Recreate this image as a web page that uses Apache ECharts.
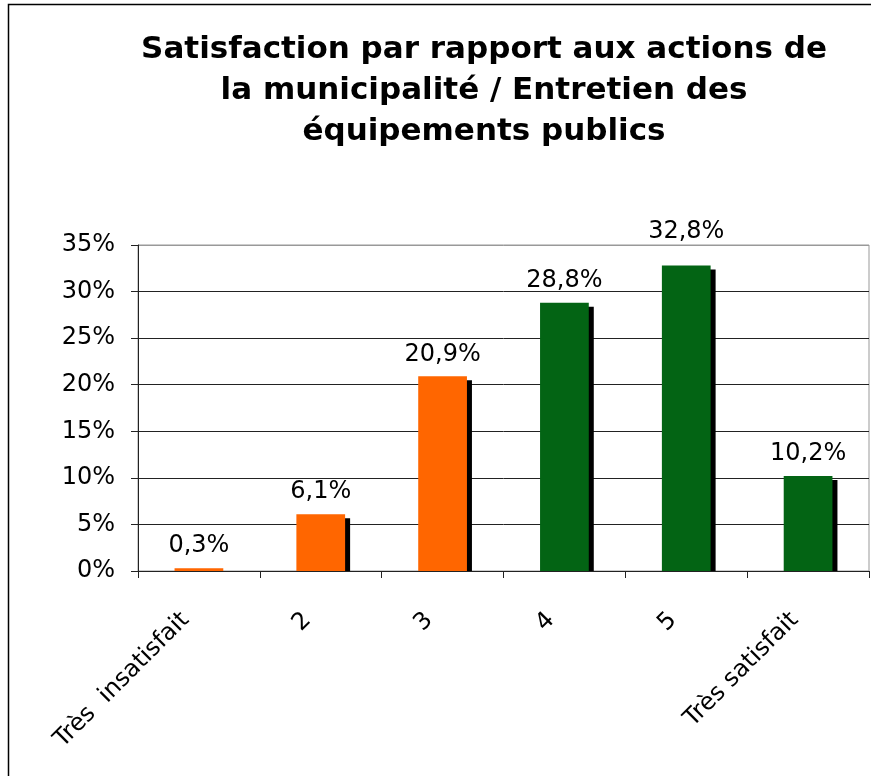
<!DOCTYPE html>
<html>
<head>
<meta charset="utf-8">
<script src="https://cdn.jsdelivr.net/npm/echarts@6/dist/echarts.min.js"></script>
<style>
html,body{margin:0;padding:0;background:#fff;}
#chart{width:871px;height:776px;}
</style>
</head>
<body>
<div id="chart"></div>
<script>
var titleText = 'Satisfaction par rapport aux actions de\nla municipalité / Entretien des\néquipements publics';
var categories = ['Très  insatisfait', '2', '3', '4', '5', 'Très satisfait'];
var values = [0.3, 6.1, 20.9, 28.8, 32.8, 10.2];
var barColors = ['#FF6600', '#FF6600', '#FF6600', '#036414', '#036414', '#036414'];
var yTicks = { min: 0, max: 35, interval: 5 };

var FONT = 'DejaVu Sans, Verdana, sans-serif';
var chart = echarts.init(document.getElementById('chart'), null, {renderer: 'canvas'});

function fmt(v) { return v.toFixed(1).replace('.', ',') + '%'; }

var option = {
  backgroundColor: '#fff',
  animation: false,
  title: {
    text: titleText,
    left: 484,
    top: 29,
    textAlign: 'center',
    padding: 0,
    textStyle: {
      fontFamily: FONT,
      fontWeight: 'bold',
      fontSize: 31,
      lineHeight: 41,
      color: '#000'
    }
  },
  graphic: [{
    type: 'rect',
    shape: { x: 8.5, y: 4.5, width: 900, height: 800 },
    style: { fill: 'none', stroke: '#000', lineWidth: 1.5 },
    silent: true, z: 100
  }],
  grid: {
    left: 138, right: 2, top: 245, bottom: 205,
    show: true, borderColor: '#999', borderWidth: 1, backgroundColor: '#fff'
  },
  xAxis: {
    type: 'category',
    data: categories,
    boundaryGap: true,
    axisLine: { lineStyle: { color: '#222', width: 1 } },
    axisTick: { show: true, inside: false, length: 7, interval: 0, lineStyle: { color: '#222' } },
    axisLabel: {
      interval: 0,
      rotate: 45,
      margin: 32,
      padding: [0, 19, 0, 0],
      fontFamily: FONT,
      fontSize: 24,
      color: '#000'
    }
  },
  yAxis: {
    type: 'value',
    min: yTicks.min, max: yTicks.max, interval: yTicks.interval,
    axisLine: { show: true, lineStyle: { color: '#222', width: 1 } },
    axisTick: { show: true, inside: false, length: 7, lineStyle: { color: '#222' } },
    axisLabel: {
      formatter: '{value}%',
      margin: 23,
      fontFamily: FONT,
      fontSize: 24,
      color: '#000'
    },
    splitLine: {
      show: true,
      lineStyle: { color: ['#222', '#222', '#222', '#222', '#222', '#222', '#222', '#999'], width: 1 }
    }
  },
  series: [{
    type: 'custom',
    name: 'shadow',
    z: 1,
    silent: true,
    renderItem: function (params, api) {
      var idx = api.value(0);
      var top = api.coord([idx, api.value(1)]);
      var base = api.coord([idx, 0]);
      var w = api.size([1, 0])[0] * 0.4;
      var y0 = top[1] + 4;
      var h = base[1] - y0;
      if (h <= 0) return null;
      return {
        type: 'rect',
        shape: { x: top[0] - w / 2 + 5, y: y0, width: w, height: h },
        style: { fill: '#000' }
      };
    },
    encode: { x: 0, y: 1 },
    data: values.map(function (v, i) { return [i, v]; })
  }, {
    type: 'bar',
    z: 3,
    barWidth: '40%',
    data: values.map(function (v, i) {
      // a label that would cross the plot's top border is lifted above it
      var lifted = v > yTicks.max - 4;
      return {
        value: v,
        itemStyle: { color: barColors[i] },
        label: lifted ? { distance: 22 } : undefined
      };
    }),
    label: {
      show: true,
      position: 'top',
      distance: 10,
      formatter: function (p) { return fmt(p.value); },
      fontFamily: FONT,
      fontSize: 24,
      color: '#000'
    }
  }]
};
chart.setOption(option);
</script>
</body>
</html>
